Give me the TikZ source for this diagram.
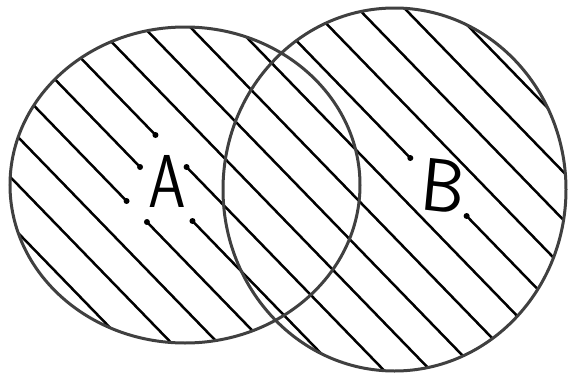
\documentclass[tikz,border=0pt]{standalone}
\tikzset{
  outline/.style={draw=black!75, line width=3pt},
  hatch/.style={black, line width=2.5pt, line cap=round},
  gapline/.style={white, line width=7pt},
  blob/.style={fill=black},
  lbl/.style={font=\sffamily\fontsize{75}{75}\selectfont, inner sep=0pt}
}
\begin{document}
\begin{tikzpicture}[x=1pt,y=-1pt]
\useasboundingbox (0,0) rectangle (568,375);
% hatching over the union of both sets
\begin{scope}
  \clip (185,185) ellipse [x radius=175pt, y radius=158pt]
        (394.5,189.5) ellipse [x radius=171.5pt, y radius=181.5pt];
  \foreach \k in {-6,...,12} {
    \draw[hatch] ({75+46.5*\k-120/1.03},-20) -- ({75+46.5*\k+300/1.03},400);
  }
\end{scope}
% gaps in the hatching round the letters
\foreach \k/\ya/\yb in {1/135/167, 0/167/221, -1/201/222, 6/158/216} {
  \draw[gapline] ({75+46.5*\k+(\ya-100)/1.03},\ya) -- ({75+46.5*\k+(\yb-100)/1.03},\yb);
  \fill[blob] ({75+46.5*\k+(\ya-100)/1.03},\ya) circle (3pt);
  \fill[blob] ({75+46.5*\k+(\yb-100)/1.03},\yb) circle (3pt);
}
% outlines
\draw[outline] (185,185) ellipse [x radius=175pt, y radius=158pt];
\draw[outline] (394.5,189.5) ellipse [x radius=171.5pt, y radius=181.5pt];
% labels
\node[lbl, xscale=0.8] (la) at (167,181) {A};
\node[lbl, xscale=0.92, rotate=-6] (lb) at (443,186) {B};
\end{tikzpicture}
\end{document}
